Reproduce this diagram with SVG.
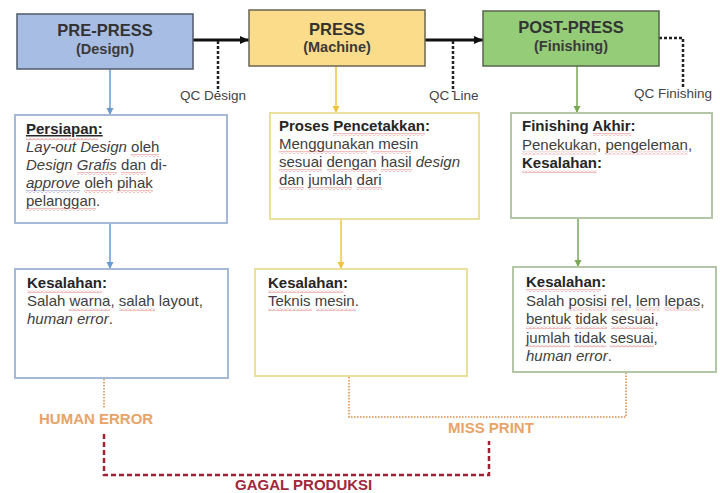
<svg xmlns="http://www.w3.org/2000/svg" width="720" height="493" viewBox="0 0 720 493">
<style>
  text{font-family:"Liberation Sans",Arial,sans-serif;}
  .title{font-size:16.5px;font-weight:bold;fill:#333333;text-anchor:middle}
  .sub{font-size:14.5px;font-weight:bold;fill:#3a3a3a;text-anchor:middle}
  .body{font-size:15px;fill:#404040}
  .b{font-weight:bold;fill:#262626}
  .i{font-style:italic}
  .qc{font-size:13.5px;fill:#444444}
  .lab{font-size:15px;font-weight:bold}
  .box{fill:#ffffff;stroke-width:2}
  .top{stroke-width:1.5}
  .flow{fill:none;stroke:#111111;stroke-width:3}
  .qcl{fill:none;stroke:#222222;stroke-width:2.5;stroke-dasharray:3 2}
  .dot{fill:none;stroke:#E6A86E;stroke-width:2;stroke-dasharray:1.5 1.5}
  .red{fill:none;stroke:#9E2233;stroke-width:2.5;stroke-dasharray:5 3}
  .sq{fill:url(#wave)}
  .sqb{fill:url(#waveb)}
</style>
<defs>
  <pattern id="wave" width="4" height="3" patternUnits="userSpaceOnUse"><path d="M0,2.5 L2,0.5 L4,2.5" fill="none" stroke="#E06060" stroke-width="0.8"/></pattern>
  <pattern id="waveb" width="4" height="3" patternUnits="userSpaceOnUse"><path d="M0,2.5 L2,0.5 L4,2.5" fill="none" stroke="#6A6AC8" stroke-width="0.8"/></pattern>
  <marker id="ab" markerUnits="userSpaceOnUse" markerWidth="10" markerHeight="10" refX="9" refY="5" orient="auto"><path d="M0,1 L9,5 L0,9 z" fill="#111111"/></marker>
  <marker id="ablue" markerUnits="userSpaceOnUse" markerWidth="8" markerHeight="8" refX="7" refY="4" orient="auto"><path d="M0,0.5 L7,4 L0,7.5 z" fill="#6A9BD0"/></marker>
  <marker id="ayel" markerUnits="userSpaceOnUse" markerWidth="8" markerHeight="8" refX="7" refY="4" orient="auto"><path d="M0,0.5 L7,4 L0,7.5 z" fill="#EEC440"/></marker>
  <marker id="agrn" markerUnits="userSpaceOnUse" markerWidth="8" markerHeight="8" refX="7" refY="4" orient="auto"><path d="M0,0.5 L7,4 L0,7.5 z" fill="#7AA856"/></marker>
</defs>
<rect width="720" height="493" fill="#ffffff"/>

<g id="connectors">
  <line class="flow" x1="193" y1="40" x2="249" y2="40" marker-end="url(#ab)"/>
  <line class="flow" x1="425" y1="40" x2="483" y2="40" marker-end="url(#ab)"/>
  <line class="qcl" x1="218" y1="41" x2="218" y2="92"/>
  <line class="qcl" x1="453" y1="41" x2="453" y2="92"/>
  <path class="qcl" d="M659,38 H683 V88"/>
  <line x1="110" y1="69" x2="110" y2="115" stroke="#6A9BD0" stroke-width="1.5" marker-end="url(#ablue)"/>
  <line x1="110" y1="223" x2="110" y2="269" stroke="#6A9BD0" stroke-width="1.5" marker-end="url(#ablue)"/>
  <line x1="336" y1="66" x2="336" y2="113" stroke="#EEC440" stroke-width="1.5" marker-end="url(#ayel)"/>
  <line x1="341" y1="219" x2="341" y2="269" stroke="#EEC440" stroke-width="1.5" marker-end="url(#ayel)"/>
  <line x1="577" y1="66" x2="577" y2="113" stroke="#7AA856" stroke-width="1.5" marker-end="url(#agrn)"/>
  <line x1="578" y1="218" x2="578" y2="267" stroke="#7AA856" stroke-width="1.5" marker-end="url(#agrn)"/>
  <line class="dot" x1="104" y1="379" x2="104" y2="409"/>
  <path class="dot" d="M349,377 V417 H626 V373"/>
  <path class="red" d="M104,434 V475 H489 V441"/>
  <text class="qc" x="180" y="100">QC Design</text>
  <text class="qc" x="429" y="100">QC Line</text>
  <text class="qc" x="634" y="98">QC Finishing</text>
  <text class="lab" x="39" y="424" fill="#E8A468">HUMAN ERROR</text>
  <text class="lab" x="448" y="433" fill="#E8A468">MISS PRINT</text>
  <text class="lab" x="235" y="490" fill="#A0283A" font-size="14.5">GAGAL PRODUKSI</text>
</g>

<g id="pre-press">
  <rect class="top" x="17" y="14" width="176" height="55" fill="#A8BDE3" stroke="#4f5a68"/>
  <text class="title" x="105" y="36">PRE-PRESS</text>
  <text class="sub" x="105" y="54">(Design)</text>
</g>
<g id="press">
  <rect class="top" x="249" y="10" width="176" height="56" fill="#FBDC8A" stroke="#6b6450"/>
  <text class="title" x="337" y="35">PRESS</text>
  <text class="sub" x="337" y="52">(Machine)</text>
</g>
<g id="post-press">
  <rect class="top" x="483" y="11" width="176" height="55" fill="#95CC78" stroke="#56654c"/>
  <text class="title" x="571" y="33">POST-PRESS</text>
  <text class="sub" x="571" y="51">(Finishing)</text>
</g>

<g id="persiapan">
  <rect class="box" x="15" y="115" width="212" height="108" stroke="#A3B9D5"/>
  <text class="body" x="26" y="134"><tspan class="b" text-decoration="underline">Persiapan:</tspan></text>
  <text class="body" x="26" y="152"><tspan class="i">Lay-out Design</tspan> oleh</text>
  <text class="body" x="26" y="170"><tspan class="i">Design Grafis</tspan> dan di-</text>
  <text class="body" x="26" y="188"><tspan class="i">approve</tspan> oleh pihak</text>
  <text class="body" x="26" y="206">pelanggan.</text>
  <rect class="sq" x="26" y="137.5" width="72" height="3"/>
  <rect class="sq" x="131" y="154" width="28" height="3"/>
  <rect class="sq" x="77" y="172" width="40" height="3"/>
  <rect class="sq" x="121" y="172" width="25" height="3"/>
  <rect class="sqb" x="26" y="190" width="54" height="3"/>
  <rect class="sq" x="84" y="190" width="29" height="3"/>
  <rect class="sq" x="117" y="190" width="36" height="3"/>
  <rect class="sq" x="26" y="208" width="70" height="3"/>
</g>
<g id="proses">
  <rect class="box" x="270" y="113" width="209" height="106" stroke="#EADF9C"/>
  <text class="body" x="279" y="131"><tspan class="b">Proses Pencetakkan:</tspan></text>
  <text class="body" x="279" y="149">Menggunakan mesin</text>
  <text class="body" x="279" y="167">sesuai dengan hasil <tspan class="i">design</tspan></text>
  <text class="body" x="279" y="185">dan jumlah dari</text>
  <rect class="sq" x="333" y="133" width="92" height="3"/>
  <rect class="sq" x="279" y="151" width="88" height="3"/>
  <rect class="sq" x="371" y="151" width="40" height="3"/>
  <rect class="sq" x="279" y="169" width="43" height="3"/>
  <rect class="sq" x="327" y="169" width="50" height="3"/>
  <rect class="sq" x="381" y="169" width="31" height="3"/>
  <rect class="sq" x="279" y="187" width="25" height="3"/>
  <rect class="sq" x="308" y="187" width="44" height="3"/>
  <rect class="sq" x="357" y="187" width="25" height="3"/>
</g>
<g id="finishing">
  <rect class="box" x="511" y="113" width="201" height="105" stroke="#B3C6A6"/>
  <text class="body" x="522" y="131"><tspan class="b">Finishing Akhir:</tspan></text>
  <text class="body" x="522" y="149.5">Penekukan, pengeleman,</text>
  <text class="body" x="522" y="168"><tspan class="b">Kesalahan:</tspan></text>
  <rect class="sq" x="593" y="133" width="38" height="3"/>
  <rect class="sq" x="522" y="151.5" width="75" height="3"/>
  <rect class="sq" x="605" y="151.5" width="83" height="3"/>
  <rect class="sq" x="522" y="170" width="75" height="3"/>
</g>
<g id="kesalahan-design">
  <rect class="box" x="15" y="269" width="213" height="109" stroke="#A3B9D5"/>
  <text class="body" x="27" y="288"><tspan class="b">Kesalahan:</tspan></text>
  <text class="body" x="27" y="306">Salah warna, salah layout,</text>
  <text class="body" x="27" y="324"><tspan class="i">human error</tspan>.</text>
  <rect class="sq" x="27" y="290" width="75" height="3"/>
  <rect class="sq" x="69" y="308" width="41" height="3"/>
  <rect class="sq" x="119" y="308" width="36" height="3"/>
</g>
<g id="kesalahan-mesin">
  <rect class="box" x="255" y="269" width="212" height="107" stroke="#EADF9C"/>
  <text class="body" x="268" y="288"><tspan class="b">Kesalahan:</tspan></text>
  <text class="body" x="268" y="306">Teknis mesin.</text>
  <rect class="sq" x="268" y="290" width="75" height="3"/>
  <rect class="sq" x="268" y="308" width="44" height="3"/>
  <rect class="sq" x="316" y="308" width="40" height="3"/>
</g>
<g id="kesalahan-finishing">
  <rect class="box" x="513" y="267" width="203" height="105" stroke="#B3C6A6"/>
  <text class="body" x="526" y="287"><tspan class="b">Kesalahan:</tspan></text>
  <text class="body" x="526" y="305.5">Salah posisi rel, lem lepas,</text>
  <text class="body" x="526" y="324">bentuk tidak sesuai,</text>
  <text class="body" x="526" y="342.5">jumlah tidak sesuai,</text>
  <text class="body" x="526" y="361"><tspan class="i">human error</tspan>.</text>
  <rect class="sq" x="526" y="289" width="75" height="3"/>
  <rect class="sq" x="568" y="307.5" width="39" height="3"/>
  <rect class="sq" x="611" y="307.5" width="17" height="3"/>
  <rect class="sq" x="636" y="307.5" width="24" height="3"/>
  <rect class="sq" x="664" y="307.5" width="36" height="3"/>
  <rect class="sq" x="526" y="326" width="45" height="3"/>
  <rect class="sq" x="575" y="326" width="32" height="3"/>
  <rect class="sq" x="611" y="326" width="43" height="3"/>
  <rect class="sq" x="526" y="344.5" width="44" height="3"/>
  <rect class="sq" x="574" y="344.5" width="32" height="3"/>
  <rect class="sq" x="610" y="344.5" width="44" height="3"/>
</g>
</svg>
